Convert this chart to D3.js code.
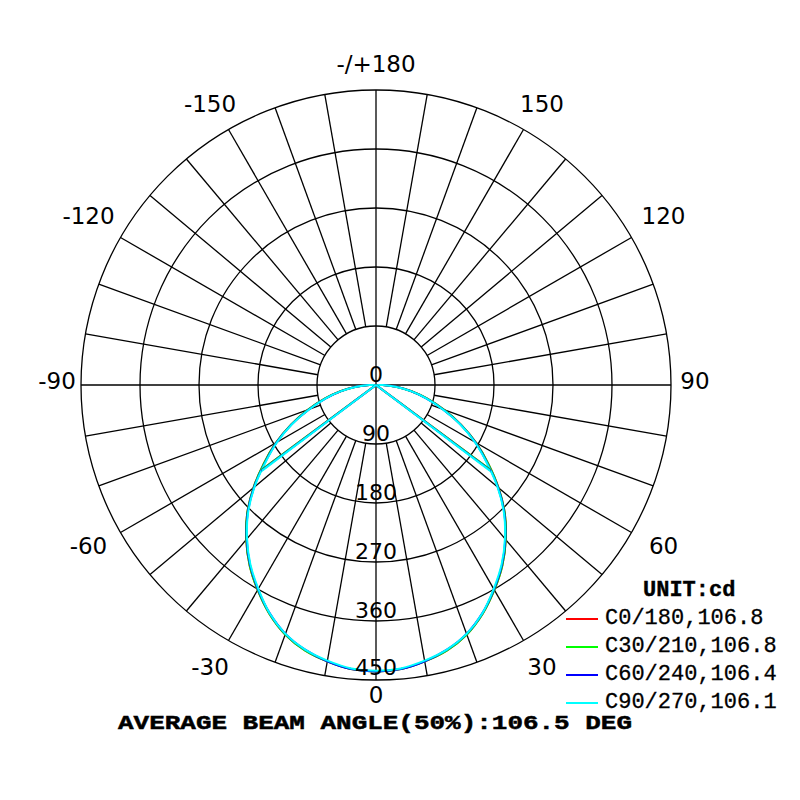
<!DOCTYPE html>
<meta charset="utf-8">
<style>
body { margin: 0; background: #fff; }
</style>
<svg id="thevis" width="800" height="800"></svg>
<script src="https://d3js.org/d3.v7.min.js"></script>
<script>
// gamma angles (deg) and intensities (cd) per C-plane
var gamma = [0, 5, 10, 15, 20, 25, 30, 35, 40, 45, 50, 55, 60, 65, 70, 75, 80, 85, 90];
var c0   = [437, 435, 428, 419, 405, 385, 361, 336, 308, 278, 244, 209, 176, 143, 110, 81, 55, 31, 10];
var c30  = [437, 435, 428, 419, 405, 385, 361, 336, 308, 278, 244, 209, 176, 143, 110, 81, 55, 31, 10];
var c60  = [437, 435, 428, 418, 404, 384, 360, 335, 307, 277, 243, 207, 175, 142, 109, 80, 54, 31, 10];
var c90  = [436, 434, 427, 418, 404, 384, 359, 334, 306, 276, 242, 206, 174, 141, 108, 80, 54, 30, 10];

var seriesNames = ["C0/180", "C30/210", "C60/240", "C90/270"];
var seriesValues = [c0, c30, c60, c90];
var beamAngles = [106.8, 106.8, 106.4, 106.1];
var colors = ["#ff0000", "#00ff00", "#0000ff", "#00ffff"];

var ringValues = [0, 90, 180, 270, 360, 450];
var angleLabels = [0, 30, 60, 90, 120, 150, 180, -150, -120, -90, -60, -30];
var avgBeam = "106.5";

var svg = d3.select("svg");
var cx = 376, cy = 385, R = 295;

var r = d3.scaleLinear().domain([0, 450]).range([0, R]);

// screen point for gamma g (deg), side +1 right / -1 left
function pt(g, v, side) {
  var a = g * Math.PI / 180;
  return [cx + side * r(v) * Math.sin(a), cy + r(v) * Math.cos(a)];
}

var grid = svg.append("g").attr("stroke", "#000").attr("fill", "none").attr("stroke-width", 1.3);

// radial spokes every 10 deg from the first ring outward
d3.range(0, 360, 10).forEach(function(d) {
  if (d % 90 == 0) return;
  var a = d * Math.PI / 180;
  grid.append("line")
      .attr("x1", cx + r(90) * Math.sin(a)).attr("y1", cy + r(90) * Math.cos(a))
      .attr("x2", cx + R * Math.sin(a)).attr("y2", cy + R * Math.cos(a));
});
// main axes through the centre
grid.append("line").attr("x1", cx - R).attr("y1", cy).attr("x2", cx + R).attr("y2", cy);
grid.append("line").attr("x1", cx).attr("y1", cy - R).attr("x2", cx).attr("y2", cy + R);

grid.selectAll("circle")
  .data(ringValues.slice(1))
  .enter().append("circle")
    .attr("cx", cx).attr("cy", cy)
    .attr("r", function(d) { return r(d); });

// intensity curves
var line = d3.line().curve(d3.curveCatmullRom);

seriesValues.forEach(function(vals, i) {
  var pts = [[cx, cy]];
  for (var k = gamma.length - 1; k >= 0; k--) pts.push(pt(gamma[k], vals[k], -1));
  for (var k = 1; k < gamma.length; k++) pts.push(pt(gamma[k], vals[k], 1));
  pts.push([cx, cy]);
  svg.append("path")
      .attr("d", line(pts))
      .attr("fill", "none")
      .attr("stroke", colors[i])
      .attr("stroke-width", 2);
});

// beam angle lines (50% of peak)
seriesValues.forEach(function(vals, i) {
  var half = beamAngles[i] / 2;
  var peak = d3.max(vals);
  [-1, 1].forEach(function(side) {
    var p = pt(half, peak / 2, side);
    svg.append("line")
        .attr("x1", cx).attr("y1", cy)
        .attr("x2", p[0]).attr("y2", p[1])
        .attr("stroke", colors[i])
        .attr("stroke-width", 2);
  });
});

// ring value labels
svg.append("g")
    .attr("font-family", "DejaVu Sans")
    .attr("font-size", 22)
    .attr("text-anchor", "middle")
  .selectAll("text")
  .data(ringValues)
  .enter().append("text")
    .attr("x", cx)
    .attr("y", function(d) { return cy + r(d) - (d == 450 ? 5 : 3); })
    .text(function(d) { return d; });

// angle labels round the circle
svg.append("g")
    .attr("font-family", "DejaVu Sans")
    .attr("font-size", 23)
    .attr("text-anchor", "middle")
    .attr("dominant-baseline", "central")
  .selectAll("text")
  .data(angleLabels)
  .enter().append("text")
    .attr("x", function(d) {
      var lr = d % 90 == 0 ? 319 : 332;
      return cx + lr * Math.sin(d * Math.PI / 180);
    })
    .attr("y", function(d) {
      var lr = d == 0 ? 314 : (d % 90 == 0 ? 317 : 330);
      if (Math.abs(d) == 150) lr = 320;
      return cy + lr * Math.cos(d * Math.PI / 180) - 4;
    })
    .text(function(d) { return d == 180 ? "-/+180" : d; });

// legend
var legend = svg.append("g").attr("font-family", "Liberation Mono");

legend.append("text")
    .attr("x", 643).attr("y", 596)
    .attr("font-size", 22).attr("font-weight", "bold")
    .attr("stroke", "#000").attr("stroke-width", 0.4)
    .text("UNIT:cd");

var items = legend.selectAll("g.item")
  .data(seriesNames)
  .enter().append("g")
    .attr("class", "item")
    .attr("transform", function(d, i) { return "translate(0," + (624 + i * 28) + ")"; });

items.append("line")
    .attr("x1", 566).attr("x2", 598)
    .attr("y1", -5).attr("y2", -5)
    .attr("stroke", function(d, i) { return colors[i]; })
    .attr("stroke-width", 2);

items.append("text")
    .attr("x", 605)
    .attr("font-size", 22)
    .attr("stroke", "#000").attr("stroke-width", 0.3)
    .text(function(d, i) { return d + "," + beamAngles[i].toFixed(1); });

svg.append("text")
    .attr("x", 118).attr("y", 729)
    .attr("font-family", "Liberation Mono")
    .attr("font-size", 21)
    .attr("font-weight", "bold")
    .attr("stroke", "#000").attr("stroke-width", 0.5)
    .attr("textLength", 514)
    .attr("lengthAdjust", "spacingAndGlyphs")
    .text("AVERAGE BEAM ANGLE(50%):" + avgBeam + " DEG");
</script>
